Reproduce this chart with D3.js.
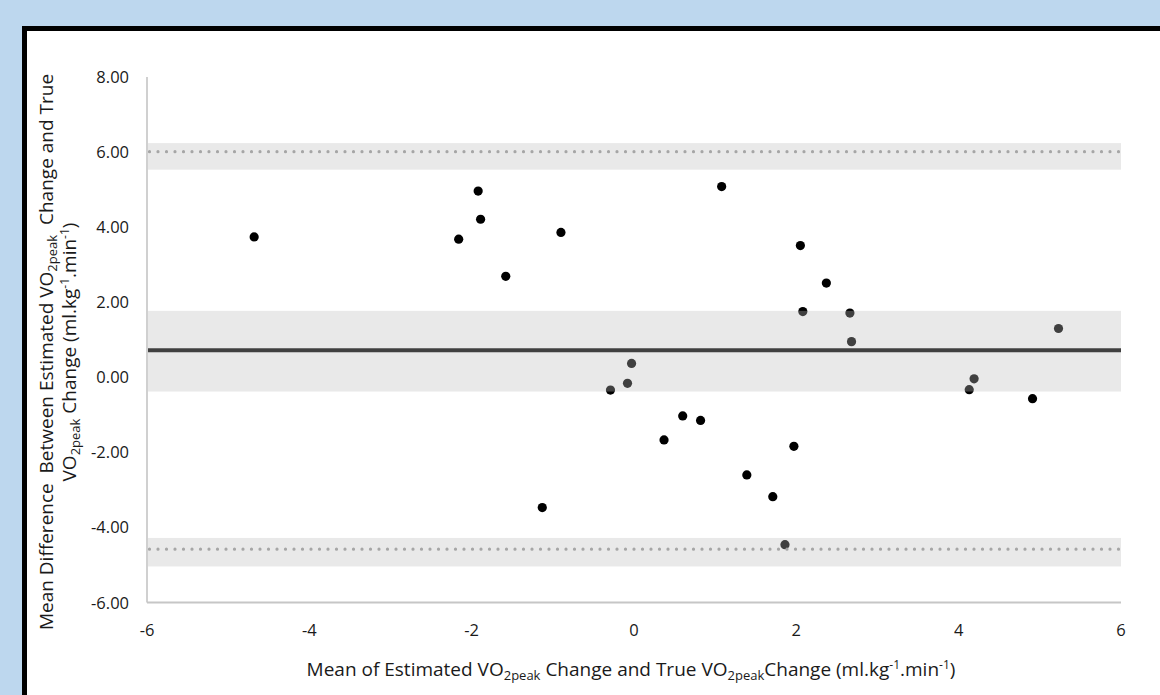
<!DOCTYPE html>
<html>
<head>
<meta charset="utf-8">
<script src="https://cdn.jsdelivr.net/npm/d3@7"></script>
<style>
  html, body { margin: 0; padding: 0; background: #bdd7ee; }
  svg { display: block; }
  text { font-family: "Open Sans", "Liberation Sans", sans-serif; fill: #1a1a1a; white-space: pre; }
</style>
</head>
<body>
<svg id="chart" width="1160" height="695"></svg>
<script>
// ---- data ----
const xTicks = [-6, -4, -2, 0, 2, 4, 6];
const yTicks = [-6, -4, -2, 0, 2, 4, 6, 8];
const meanOfChanges = [-4.68, -2.16, -1.92, -1.89, -1.58, -0.90, -1.13, -0.29, -0.08, -0.03,
  0.37, 0.60, 0.82, 1.08, 1.39, 1.71, 1.86, 1.97, 2.05, 2.08, 2.37, 2.66, 2.68, 4.13, 4.19, 4.91, 5.23];
const meanDifference = [3.74, 3.68, 4.96, 4.21, 2.69, 3.86, -3.47, -0.34, -0.16, 0.37,
  -1.67, -1.03, -1.15, 5.08, -2.60, -3.18, -4.46, -1.84, 3.51, 1.75, 2.51, 1.71, 0.95, -0.33, -0.04, -0.57, 1.30];
const bias = 0.72;
const biasCI = [-0.38, 1.77];
const upperLoA = 6.01;
const upperLoACI = [5.53, 6.24];
const lowerLoA = -4.58;
const lowerLoACI = [-5.04, -4.28];

// ---- layout ----
const svg = d3.select("#chart");
// frame
svg.append("rect").attr("x", 27).attr("y", 31).attr("width", 1160).attr("height", 700).attr("fill", "#fff");
svg.append("rect").attr("x", 24.5).attr("y", 28.5).attr("width", 1200).attr("height", 700)
  .attr("fill", "none").attr("stroke", "#000").attr("stroke-width", 5);

const x = d3.scaleLinear().domain([-6, 6]).range([147, 1121]);
const y = d3.scaleLinear().domain([-6, 8]).range([602.5, 77]);

// axis lines
svg.append("line").attr("x1", x(-6)).attr("x2", x(-6)).attr("y1", y(8)).attr("y2", y(-6))
  .attr("stroke", "#d0d0d0").attr("stroke-width", 2);
svg.append("line").attr("x1", x(-6)).attr("x2", x(6)).attr("y1", y(-6)).attr("y2", y(-6))
  .attr("stroke", "#c6c6c6").attr("stroke-width", 2);

// tick labels
svg.append("g").selectAll("text").data(yTicks).join("text")
  .attr("x", 129).attr("y", d => y(d) + 6)
  .attr("text-anchor", "end").attr("font-size", 16.5)
  .text(d => d3.format(".2f")(d).replace("\u2212", "-"));
svg.append("g").selectAll("text").data(xTicks).join("text")
  .attr("x", d => x(d)).attr("y", 636)
  .attr("text-anchor", "middle").attr("font-size", 16.5)
  .text(d => String(d));

// points
svg.append("g").selectAll("circle").data(meanOfChanges.map((v, i) => [v, meanDifference[i]])).join("circle")
  .attr("cx", d => x(d[0])).attr("cy", d => y(d[1])).attr("r", 4.6).attr("fill", "#000");

// bands (semi-transparent, drawn over points)
const bands = [biasCI, upperLoACI, lowerLoACI];
svg.append("g").selectAll("rect").data(bands).join("rect")
  .attr("x", x(-6) + 1).attr("width", x(6) - x(-6) - 1)
  .attr("y", d => y(d[1])).attr("height", d => y(d[0]) - y(d[1]))
  .attr("fill", "rgb(190,190,190)").attr("fill-opacity", 0.337);

// limits of agreement (dotted)
svg.append("g").selectAll("line").data([upperLoA, lowerLoA]).join("line")
  .attr("x1", x(-6) + 2.5).attr("x2", x(6)).attr("y1", d => y(d)).attr("y2", d => y(d))
  .attr("stroke", "#a6a6a6").attr("stroke-width", 3.2)
  .attr("stroke-linecap", "round").attr("stroke-dasharray", "0 8.5");

// bias line
svg.append("line").attr("x1", x(-6) + 1).attr("x2", x(6)).attr("y1", y(bias)).attr("y2", y(bias))
  .attr("stroke", "#404040").attr("stroke-width", 4);

// x title
const FS = 19, SUB = 13, SUP = 12;
const xt = svg.append("text").attr("x", 631).attr("y", 676).attr("text-anchor", "middle").attr("font-size", FS);
xt.append("tspan").text("Mean of Estimated VO");
xt.append("tspan").attr("font-size", SUB).attr("dy", 4).text("2peak");
xt.append("tspan").attr("dy", -4).text(" Change and True VO");
xt.append("tspan").attr("font-size", SUB).attr("dy", 4).text("2peak");
xt.append("tspan").attr("dy", -4).text("Change (ml.kg");
xt.append("tspan").attr("font-size", SUP).attr("dy", -7).text("-1");
xt.append("tspan").attr("dy", 7).text(".min");
xt.append("tspan").attr("font-size", SUP).attr("dy", -7).text("-1");
xt.append("tspan").attr("dy", 7).text(")");

// y title (two lines, rotated)
const yg = svg.append("g").attr("transform", "translate(0,352) rotate(-90)");
const y1 = yg.append("text").attr("x", 0).attr("y", 53).attr("text-anchor", "middle").attr("font-size", FS);
y1.append("tspan").text("Mean Difference  Between Estimated VO");
y1.append("tspan").attr("font-size", SUB).attr("dy", 4).text("2peak");
y1.append("tspan").attr("dy", -4).text("  Change and True");
const y2 = yg.append("text").attr("x", 0).attr("y", 76).attr("text-anchor", "middle").attr("font-size", FS);
y2.append("tspan").text("VO");
y2.append("tspan").attr("font-size", SUB).attr("dy", 4).text("2peak");
y2.append("tspan").attr("dy", -4).text(" Change (ml.kg");
y2.append("tspan").attr("font-size", SUP).attr("dy", -7).text("-1");
y2.append("tspan").attr("dy", 7).text(".min");
y2.append("tspan").attr("font-size", SUP).attr("dy", -7).text("-1");
y2.append("tspan").attr("dy", 7).text(")");
</script>
</body>
</html>
